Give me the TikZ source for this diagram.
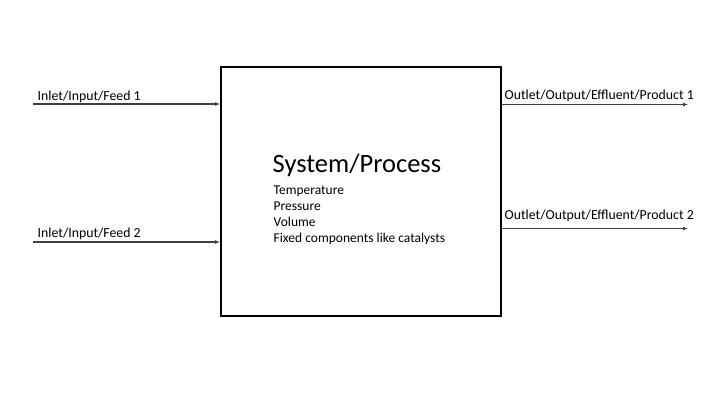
\documentclass[tikz,border=0pt]{standalone}
\usepackage{fontspec}
\setmainfont{Carlito}
\usetikzlibrary{arrows.meta}
\begin{document}
\begin{tikzpicture}[x=1pt,y=-1pt,
  flow/.style={draw=black!75,line width=1.3pt,-{Latex[length=5pt,width=4pt]}},
  lbl/.style={anchor=base west,inner sep=0pt,font=\fontsize{13.8}{16}\selectfont},
  sysbox/.style={draw=black,line width=1.8pt,minimum width=280pt,minimum height=249pt,inner sep=0pt}]
\useasboundingbox (0,0) rectangle (720,405);
\node[sysbox] (sys) at (361,191.5) {};
\coordinate (i1) at (33,104);
\coordinate (i2) at (33,242);
\coordinate (o1) at (688,104.5);
\coordinate (o2) at (688,228.5);
\draw[flow] (i1) -- (i1 -| sys.west);
\draw[flow] (i2) -- (i2 -| sys.west);
\draw[flow] (o1 -| sys.east) -- (o1);
\draw[flow] (o2 -| sys.east) -- (o2);
\node[lbl] (t1) at (37.5,100) {Inlet/Input/Feed 1};
\node[lbl] (t2) at (37.5,237) {Inlet/Input/Feed 2};
\node[lbl] (t3) at (504.5,99) {Outlet/Output/Effluent/Product 1};
\node[lbl] (t4) at (504.5,219) {Outlet/Output/Effluent/Product 2};
\node[anchor=base west,inner sep=0pt,font=\fontsize{26.5}{30}\selectfont] (title) at (272.5,172) {System/Process};
\node[anchor=base west,inner sep=0pt,align=left,font=\fontsize{13.5}{16.2}\selectfont] (props) at (273.5,242.7) {Temperature\\Pressure\\Volume\\Fixed components like catalysts};
\end{tikzpicture}
\end{document}
